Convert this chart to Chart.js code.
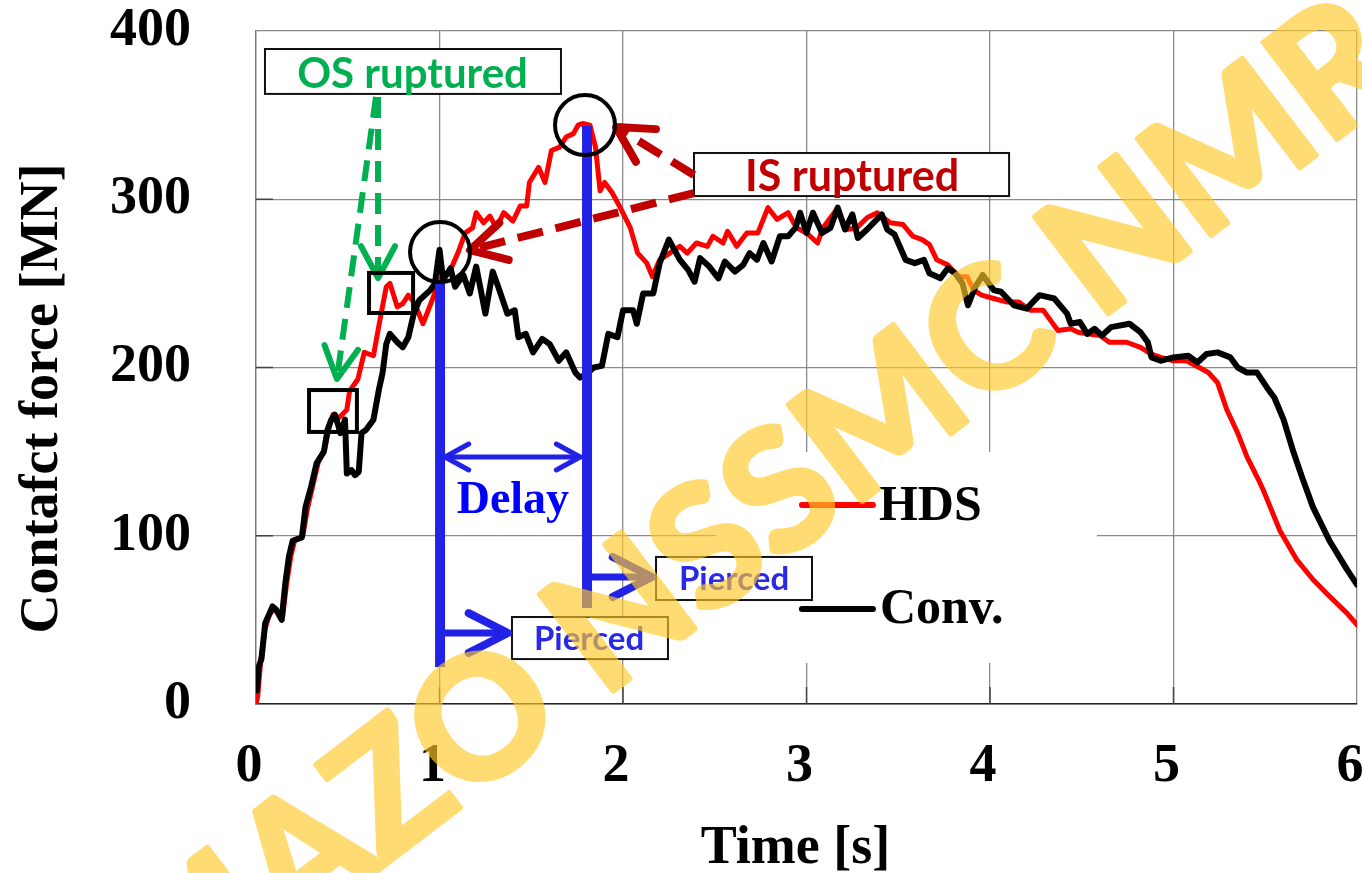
<!DOCTYPE html>
<html>
<head>
<meta charset="utf-8">
<script src="https://cdn.jsdelivr.net/npm/chart.js@4.4.1/dist/chart.umd.min.js"></script>
<style>
html,body{margin:0;padding:0;background:#fff;overflow:hidden;}
#wrap{width:1400px;height:873px;}
</style>
</head>
<body>
<div id="wrap"><canvas id="c" width="1400" height="873"></canvas></div>
<script>
// ---------------- data ----------------
const xTickValues = [0, 1, 2, 3, 4, 5, 6];
const yTickValues = [0, 100, 200, 300, 400];
const seriesNames = ['HDS', 'Conv.'];
const xAxisTitle = 'Time [s]';
const yAxisTitle = 'Contafct force [MN]';

const hdsTime = [0,0.01,0.025,0.05,0.07,0.09,0.12,0.145,0.165,0.19,0.21,0.255,0.28,0.31,0.34,0.375,0.40,0.42,0.44,0.47,0.495,0.51,0.555,0.59,0.64,0.675,0.71,0.73,0.77,0.80,0.83,0.865,0.91,0.96,1.0,1.06,1.10,1.14,1.18,1.20,1.24,1.275,1.31,1.35,1.40,1.44,1.475,1.49,1.54,1.575,1.61,1.655,1.69,1.73,1.755,1.78,1.82,1.85,1.875,1.90,1.94,1.985,2.04,2.08,2.13,2.16,2.20,2.255,2.31,2.35,2.40,2.46,2.49,2.545,2.57,2.62,2.675,2.735,2.79,2.84,2.90,2.945,3.0,3.06,3.09,3.165,3.22,3.275,3.33,3.385,3.455,3.525,3.58,3.63,3.67,3.71,3.77,3.83,3.875,3.91,3.955,4.02,4.09,4.155,4.22,4.29,4.33,4.37,4.44,4.48,4.53,4.60,4.65,4.745,4.82,4.88,4.93,5.0,5.07,5.14,5.19,5.24,5.29,5.35,5.40,5.46,5.49,5.58,5.67,5.76,5.85,5.945,6.0];
const hdsForce = [0,5,25,45,52,56,55,52,70,88,97,100,116,130,144,152,165,172,169,172,175,186,193,209,207,228,248,250,236,238,243,238,226,240,252,258,268,280,283,292,286,290,283,292,287,296,296,310,319,310,329,331,337,339,344,345,344,331,305,310,304,295,283,268,262,254,264,268,272,268,274,272,278,274,281,272,280,280,295,288,292,283,280,274,283,294,282,283,289,292,286,285,278,276,273,264,261,254,254,246,243,241,239,239,234,234,228,222,223,221,220,219,215,215,212,208,206,204,204,200,197,191,175,161,147,134,127,103,86,74,64,54,47];

const convTime = [0.005,0.015,0.03,0.05,0.07,0.09,0.11,0.14,0.16,0.18,0.20,0.25,0.27,0.30,0.33,0.37,0.39,0.41,0.43,0.45,0.46,0.485,0.495,0.52,0.54,0.56,0.575,0.60,0.64,0.67,0.69,0.71,0.73,0.77,0.80,0.83,0.86,0.89,0.95,0.975,1.0,1.02,1.06,1.085,1.13,1.165,1.20,1.25,1.29,1.32,1.37,1.41,1.43,1.47,1.51,1.56,1.60,1.65,1.69,1.74,1.765,1.80,1.84,1.885,1.92,1.97,2.0,2.055,2.075,2.11,2.165,2.20,2.25,2.31,2.355,2.39,2.42,2.47,2.52,2.555,2.61,2.655,2.69,2.73,2.765,2.81,2.855,2.90,2.94,2.965,3.0,3.035,3.085,3.13,3.17,3.21,3.25,3.28,3.33,3.365,3.41,3.44,3.48,3.54,3.59,3.64,3.67,3.73,3.77,3.81,3.85,3.88,3.92,3.96,4.02,4.06,4.13,4.20,4.27,4.35,4.42,4.44,4.49,4.53,4.57,4.61,4.66,4.76,4.82,4.86,4.88,4.93,5.0,5.08,5.13,5.18,5.24,5.31,5.35,5.40,5.455,5.51,5.55,5.60,5.65,5.70,5.76,5.85,5.945,6.0];
const convForce = [8,22,27,48,53,58,56,50,72,88,97,99,117,129,143,150,163,169,172,165,161,169,137,139,136,138,161,163,169,187,197,214,220,215,212,218,232,240,246,250,270,252,259,248,255,244,260,232,257,248,232,234,218,220,209,217,214,204,209,197,194,196,200,201,220,218,234,234,226,244,244,262,276,264,258,251,265,260,253,263,257,261,268,264,274,263,278,278,283,292,280,292,280,283,295,282,291,277,282,286,291,282,279,264,262,264,256,253,259,256,250,237,248,255,246,245,237,235,243,241,232,226,227,220,223,219,224,226,221,215,206,204,206,207,203,208,209,206,200,197,197,188,182,169,151,135,117,97,80,71];

// ---------------- annotation layout (data units) ----------------
const SERIF = '"Liberation Serif","Times New Roman",serif';
const SANS = 'Lato,"Open Sans",sans-serif';
const notes = {
  legendArea: {x0: 2.507, x1: 4.583, y0: 24.4, y1: 149.8},
  legend: [
    {name: seriesNames[0], color: '#ff0000', x0: 2.975, x1: 3.362, y: 118.3, tx: 3.395, ty: 109.4},
    {name: seriesNames[1], color: '#000000', x0: 2.975, x1: 3.362, y: 56.5, tx: 3.40, ty: 48.1}
  ],
  osBox: {x0: 0.049, x1: 1.662, y0: 362.6, y1: 389.3, text: 'OS ruptured', tx: 0.853, ty: 366.1, color: '#00b050', size: 42},
  isBox: {x0: 2.387, x1: 4.104, y0: 301.9, y1: 327.5, text: 'IS ruptured', tx: 3.248, ty: 304.9, color: '#c00000', size: 43},
  p1Box: {x0: 1.395, x1: 2.245, y0: 26.7, y1: 51.7, text: 'Pierced', tx: 1.815, ty: 32.1, color: '#2a2ae6', size: 33},
  p2Box: {x0: 2.180, x1: 3.030, y0: 61.8, y1: 87.4, text: 'Pierced', tx: 2.605, ty: 67.8, color: '#2a2ae6', size: 33},
  greenArrows: [{from: [0.654, 360.8], to: [0.441, 193.2]}, {from: [0.665, 360.8], to: [0.665, 253.2]}],
  redArrows: [{from: [2.387, 314.4], to: [1.962, 342.9]}, {from: [2.387, 303.7], to: [1.166, 269.8]}],
  blueLines: [{x: 1.003, y0: 22, y1: 250.2}, {x: 1.804, y0: 57, y1: 343.5}],
  delay: {y: 146.8, x0: 1.03, x1: 1.766, tx: 1.40, ty: 113.5},
  pierceArrows: [{from: [1.03, 42.2], to: [1.373, 42.2]}, {from: [1.831, 75.5], to: [2.158, 75.5]}],
  circles: [{x: 1.003, y: 268.6, r: 30}, {x: 1.793, y: 344.1, r: 30}],
  squares: [{x0: 0.289, x1: 0.550, y0: 161.7, y1: 186.6}, {x0: 0.616, x1: 0.856, y0: 232.4, y1: 256.2}]
};
// watermark: letter 4 ('O') centred at (482,715), letter 13 ('M') centred at (1227,147)
const watermark = {text: 'AMAZO NSSMC NMRI', anchorA: {i: 4, x: 482, y: 715}, anchorB: {i: 13, x: 1227, y: 147}, capRatio: 0.72, color: 'rgb(255,200,40)', alpha: 0.65, stroke: 6};

// ---------------- helpers ----------------
function P(chart, xv, yv) { return [chart.scales.x.getPixelForValue(xv), chart.scales.y.getPixelForValue(yv)]; }
function head(ctx, tx, ty, ang, len, spread) {
  ctx.beginPath();
  ctx.moveTo(tx - len * Math.cos(ang - spread), ty - len * Math.sin(ang - spread));
  ctx.lineTo(tx, ty);
  ctx.lineTo(tx - len * Math.cos(ang + spread), ty - len * Math.sin(ang + spread));
  ctx.stroke();
}
function arrow(ctx, chart, a, st) {
  const [sx, sy] = P(chart, a.from[0], a.from[1]);
  const [tx, ty] = P(chart, a.to[0], a.to[1]);
  ctx.save();
  ctx.strokeStyle = st.color; ctx.lineWidth = st.width; ctx.setLineDash(st.dash || []); ctx.lineCap = 'butt';
  ctx.beginPath(); ctx.moveTo(sx, sy); ctx.lineTo(tx, ty); ctx.stroke();
  ctx.setLineDash([]); ctx.lineCap = 'round'; ctx.lineJoin = 'round'; ctx.lineWidth = st.headWidth || st.width;
  head(ctx, tx, ty, Math.atan2(ty - sy, tx - sx), st.head, st.spread);
  ctx.restore();
}
function textBox(ctx, chart, b) {
  const [x0, y0] = P(chart, b.x0, b.y1);
  const [x1, y1] = P(chart, b.x1, b.y0);
  ctx.save();
  ctx.fillStyle = '#fff'; ctx.fillRect(x0, y0, x1 - x0, y1 - y0);
  ctx.strokeStyle = '#111'; ctx.lineWidth = 2; ctx.strokeRect(x0, y0, x1 - x0, y1 - y0);
  const [tx, ty] = P(chart, b.tx, b.ty);
  ctx.fillStyle = b.color; ctx.font = `bold ${b.size}px ${SANS}`; ctx.textAlign = 'center'; ctx.textBaseline = 'alphabetic';
  ctx.fillText(b.text, tx, ty);
  ctx.restore();
}
function drawWatermark(ctx, w, h) {
  const off = document.createElement('canvas');
  off.width = w; off.height = h;
  const o = off.getContext('2d');
  const wm = watermark, t = wm.text;
  o.font = 'bold 100px Lato';
  const centre = i => o.measureText(t.slice(0, i)).width + o.measureText(t[i]).width / 2;
  const dx = wm.anchorB.x - wm.anchorA.x, dy = wm.anchorB.y - wm.anchorA.y;
  const dist = Math.hypot(dx, dy), ang = Math.atan2(dy, dx);
  const size = 100 * dist / (centre(wm.anchorB.i) - centre(wm.anchorA.i));
  const cA = centre(wm.anchorA.i) * size / 100;
  const half = wm.capRatio * size / 2;
  const ux = Math.cos(ang), uy = Math.sin(ang), dnx = -Math.sin(ang), dny = Math.cos(ang);
  const bx = wm.anchorA.x + half * dnx - cA * ux, by = wm.anchorA.y + half * dny - cA * uy;
  o.translate(bx, by); o.rotate(ang);
  o.font = `bold ${size}px Lato`;
  o.fillStyle = wm.color; o.strokeStyle = wm.color; o.lineWidth = wm.stroke; o.lineJoin = 'round';
  o.fillText(t, 0, 0); o.strokeText(t, 0, 0);
  ctx.save(); ctx.setTransform(1, 0, 0, 1, 0, 0); ctx.globalAlpha = wm.alpha; ctx.drawImage(off, 0, 0); ctx.restore();
}

const annotPlugin = {
  id: 'annot',
  beforeDatasetsDraw(chart) {
    const ctx = chart.ctx; const {left, bottom} = chart.chartArea;
    ctx.save();
    ctx.strokeStyle = '#444'; ctx.lineWidth = 1.5;
    yTickValues.slice(1, -1).forEach(v => { const y = chart.scales.y.getPixelForValue(v); ctx.beginPath(); ctx.moveTo(left, y); ctx.lineTo(left + 17, y); ctx.stroke(); });
    xTickValues.slice(1, -1).forEach(v => { const x = chart.scales.x.getPixelForValue(v); ctx.beginPath(); ctx.moveTo(x, bottom); ctx.lineTo(x, bottom - 17); ctx.stroke(); });
    const L = notes.legendArea;
    const [lx0, ly0] = P(chart, L.x0, L.y1); const [lx1, ly1] = P(chart, L.x1, L.y0);
    ctx.fillStyle = '#fff'; ctx.fillRect(lx0, ly0, lx1 - lx0, ly1 - ly0);
    notes.legend.forEach(it => {
      const [a, y] = P(chart, it.x0, it.y); const [b] = P(chart, it.x1, it.y);
      ctx.strokeStyle = it.color; ctx.lineWidth = 6; ctx.lineCap = 'round';
      ctx.beginPath(); ctx.moveTo(a, y); ctx.lineTo(b, y); ctx.stroke();
      const [tx, ty] = P(chart, it.tx, it.ty);
      ctx.fillStyle = '#000'; ctx.font = `bold 50px ${SERIF}`; ctx.textAlign = 'left'; ctx.textBaseline = 'alphabetic';
      ctx.fillText(it.name, tx, ty);
    });
    ctx.restore();
  },
  afterDatasetsDraw(chart) {
    const ctx = chart.ctx;
    [notes.osBox, notes.isBox, notes.p1Box, notes.p2Box].forEach(b => textBox(ctx, chart, b));
    notes.redArrows.forEach(a => arrow(ctx, chart, a, {color: '#c00000', width: 8, dash: [26, 13], head: 40, spread: 0.5, headWidth: 8}));
    notes.greenArrows.forEach(a => arrow(ctx, chart, a, {color: '#00b050', width: 6, dash: [21, 11], head: 36, spread: 0.49, headWidth: 6}));
    ctx.save();
    ctx.strokeStyle = '#2222e6'; ctx.lineWidth = 10; ctx.lineCap = 'butt';
    notes.blueLines.forEach(l => { const [x, y0] = P(chart, l.x, l.y0); const [, y1] = P(chart, l.x, l.y1); ctx.beginPath(); ctx.moveTo(x, y0); ctx.lineTo(x, y1); ctx.stroke(); });
    ctx.restore();
    notes.pierceArrows.forEach(a => arrow(ctx, chart, a, {color: '#2222e6', width: 7, head: 44, spread: 0.47, headWidth: 8}));
    ctx.save();
    const d = notes.delay;
    const [dx0, dy] = P(chart, d.x0, d.y); const [dx1] = P(chart, d.x1, d.y);
    ctx.strokeStyle = '#2222e6'; ctx.lineWidth = 5; ctx.lineCap = 'round'; ctx.lineJoin = 'round';
    ctx.beginPath(); ctx.moveTo(dx0, dy); ctx.lineTo(dx1, dy); ctx.stroke();
    head(ctx, dx1, dy, 0, 27, 0.5); head(ctx, dx0, dy, Math.PI, 27, 0.5);
    const [tx, ty] = P(chart, d.tx, d.ty);
    ctx.fillStyle = '#0000ff'; ctx.font = `bold 46px ${SERIF}`; ctx.textAlign = 'center'; ctx.textBaseline = 'alphabetic';
    ctx.fillText('Delay', tx, ty);
    ctx.restore();
    ctx.save();
    ctx.strokeStyle = '#000'; ctx.lineWidth = 4;
    notes.circles.forEach(c => { const [cx, cy] = P(chart, c.x, c.y); ctx.beginPath(); ctx.arc(cx, cy, c.r, 0, Math.PI * 2); ctx.stroke(); });
    notes.squares.forEach(s => { const [x0, y0] = P(chart, s.x0, s.y1); const [x1, y1] = P(chart, s.x1, s.y0); ctx.strokeRect(x0, y0, x1 - x0, y1 - y0); });
    ctx.restore();
  },
  afterDraw(chart) {
    const ctx = chart.ctx; const ca = chart.chartArea;
    ctx.save();
    ctx.fillStyle = '#000'; ctx.font = `bold 54px ${SERIF}`; ctx.textAlign = 'center'; ctx.textBaseline = 'alphabetic';
    ctx.fillText(xAxisTitle, (ca.left + ca.right) / 2 - 11, 863);
    ctx.translate(57, (ca.top + ca.bottom) / 2 + 31);
    ctx.rotate(-Math.PI / 2);
    ctx.fillText(yAxisTitle, 0, 0);
    ctx.restore();
    drawWatermark(ctx, chart.canvas.width, chart.canvas.height);
  }
};

const tickFont = {family: SERIF, size: 54, weight: 'bold', lineHeight: 1};
new Chart(document.getElementById('c').getContext('2d'), {
  type: 'line',
  data: {
    datasets: [
      {label: seriesNames[1], data: convTime.map((t, i) => ({x: t, y: convForce[i]})), borderColor: '#000000', borderWidth: 6, pointRadius: 0, tension: 0, order: 0, borderJoinStyle: 'round', borderCapStyle: 'round'},
      {label: seriesNames[0], data: hdsTime.map((t, i) => ({x: t, y: hdsForce[i]})), borderColor: '#ff0000', borderWidth: 5, pointRadius: 0, tension: 0, order: 1, borderJoinStyle: 'round', borderCapStyle: 'round'}
    ]
  },
  options: {
    responsive: false, animation: false, devicePixelRatio: 1,
    layout: {padding: {left: 0, right: 43, top: 31, bottom: 0}},
    plugins: {legend: {display: false}, tooltip: {enabled: false}},
    scales: {
      x: {
        type: 'linear', min: 0, max: 6,
        afterBuildTicks: s => { s.ticks = xTickValues.map(v => ({value: v})); },
        afterFit: s => { s.height = 169; s.paddingLeft = 0; s.paddingRight = 0; },
        ticks: {font: tickFont, color: '#000', padding: 36, labelOffset: -7, maxRotation: 0, autoSkip: false},
        grid: {color: '#8a8a8a', lineWidth: 1.3, drawTicks: false},
        border: {color: '#222', width: 1.5}
      },
      y: {
        type: 'linear', min: 0, max: 400,
        afterBuildTicks: s => { s.ticks = yTickValues.map(v => ({value: v})); },
        afterFit: s => { s.width = 256; s.paddingTop = 0; s.paddingBottom = 0; },
        ticks: {font: tickFont, color: '#000', padding: 65},
        grid: {color: '#8a8a8a', lineWidth: 1.3, drawTicks: false},
        border: {color: '#777', width: 1.3}
      }
    }
  },
  plugins: [annotPlugin]
});
</script>
</body>
</html>
